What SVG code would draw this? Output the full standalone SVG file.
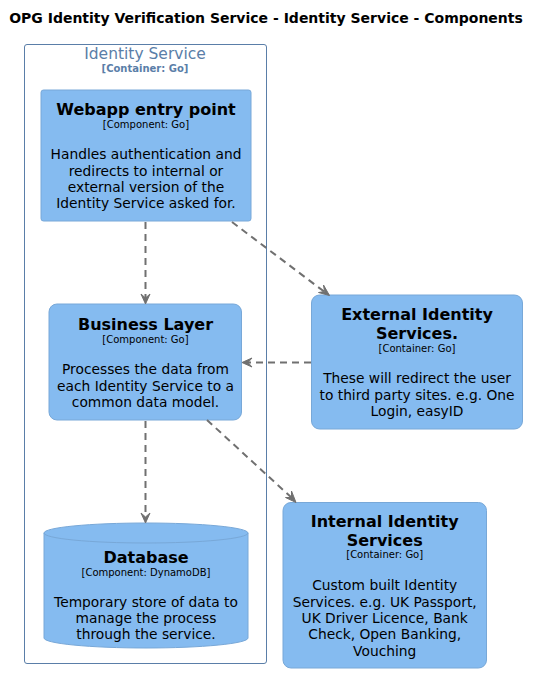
<svg xmlns="http://www.w3.org/2000/svg" width="539" height="673" viewBox="0 0 539 673">
<style>
text{font-family:"DejaVu Sans",sans-serif;text-anchor:middle;fill:#000}
.t{font-size:14px;font-weight:bold}
.bt{font-size:15.5px;fill:#5a7ea8}
.bs{font-size:10px;font-weight:bold;fill:#5a7ea8}
.n{font-size:16px;font-weight:bold}
.s{font-size:10px}
.d{font-size:13.8px}
.box{fill:#85BBF0;stroke:#78A8D8;stroke-width:1}
.ln{fill:none;stroke:#707070;stroke-width:2;stroke-dasharray:7,5}
.ah{fill:#707070;stroke:#707070;stroke-width:1}
</style>
<rect width="539" height="673" fill="#fff"/>
<text class="t" x="266" y="23">OPG Identity Verification Service - Identity Service - Components</text>
<g id="boundary">
<rect x="24.5" y="44.5" width="242" height="619" rx="2.5" fill="none" stroke="#5a7ea8" stroke-width="1"/>
<text class="bt" x="145" y="59">Identity Service</text>
<text class="bs" x="145" y="72">[Container: Go]</text>
</g>
<g id="webapp">
<rect class="box" x="41" y="90" width="210" height="131" rx="2.5"/>
<text class="n" x="146" y="115">Webapp entry point</text>
<text class="s" x="146" y="128">[Component: Go]</text>
<text class="d" x="146" y="159">Handles authentication and</text>
<text class="d" x="146" y="175.5">redirects to internal or</text>
<text class="d" x="146" y="191.5">external version of the</text>
<text class="d" x="146" y="208">Identity Service asked for.</text>
</g>
<g id="business">
<rect class="box" x="49" y="304" width="192.5" height="116" rx="8"/>
<text class="n" x="145.5" y="330">Business Layer</text>
<text class="s" x="145.5" y="343">[Component: Go]</text>
<text class="d" x="145.5" y="374">Processes the data from</text>
<text class="d" x="145.5" y="390.5">each Identity Service to a</text>
<text class="d" x="145.5" y="407">common data model.</text>
</g>
<g id="database">
<path class="box" d="M44,533 A102,10 0 0 1 248,533 L248,638 A102,10 0 0 1 44,638 Z"/>
<path d="M44,533 A102,10 0 0 0 248,533" fill="none" stroke="#78A8D8" stroke-width="1"/>
<text class="n" x="146" y="563">Database</text>
<text class="s" x="146" y="575.5">[Component: DynamoDB]</text>
<text class="d" x="146" y="606.5">Temporary store of data to</text>
<text class="d" x="146" y="623">manage the process</text>
<text class="d" x="146" y="639">through the service.</text>
</g>
<g id="external">
<rect class="box" x="311.5" y="295" width="211" height="134" rx="8"/>
<text class="n" x="417" y="320">External Identity</text>
<text class="n" x="417" y="339">Services.</text>
<text class="s" x="417" y="351.5">[Container: Go]</text>
<text class="d" x="417" y="383">These will redirect the user</text>
<text class="d" x="417" y="399.5">to third party sites. e.g. One</text>
<text class="d" x="417" y="416">Login, easyID</text>
</g>
<g id="internal">
<rect class="box" x="283" y="502.5" width="203.5" height="165.5" rx="8"/>
<text class="n" x="384.7" y="527">Internal Identity</text>
<text class="n" x="384.7" y="545.5">Services</text>
<text class="s" x="384.7" y="558">[Container: Go]</text>
<text class="d" x="384.7" y="590">Custom built Identity</text>
<text class="d" x="384.7" y="606.5">Services. e.g. UK Passport,</text>
<text class="d" x="384.7" y="622.5">UK Driver Licence, Bank</text>
<text class="d" x="384.7" y="639">Check, Open Banking,</text>
<text class="d" x="384.7" y="655.5">Vouching</text>
</g>
<g id="connectors">
<line class="ln" x1="145.5" y1="222" x2="145.5" y2="301"/>
<polygon class="ah" points="145.5,304 141,294 145.5,298 150,294"/>
<line class="ln" x1="232" y1="222" x2="326" y2="293"/>
<polygon class="ah" points="329.5,295.5 318.5,292.5 324.5,291.5 323.5,285"/>
<line class="ln" x1="311" y1="362.5" x2="245" y2="362.5"/>
<polygon class="ah" points="242,362.5 252,358 248,362.5 252,367"/>
<line class="ln" x1="145.5" y1="421" x2="145.5" y2="520"/>
<polygon class="ah" points="145.5,523 141,513 145.5,517 150,513"/>
<line class="ln" x1="207" y1="420" x2="293" y2="499"/>
<polygon class="ah" points="296,502.5 285.5,497.5 291.5,497.5 291.5,491"/>
</g>
</svg>
